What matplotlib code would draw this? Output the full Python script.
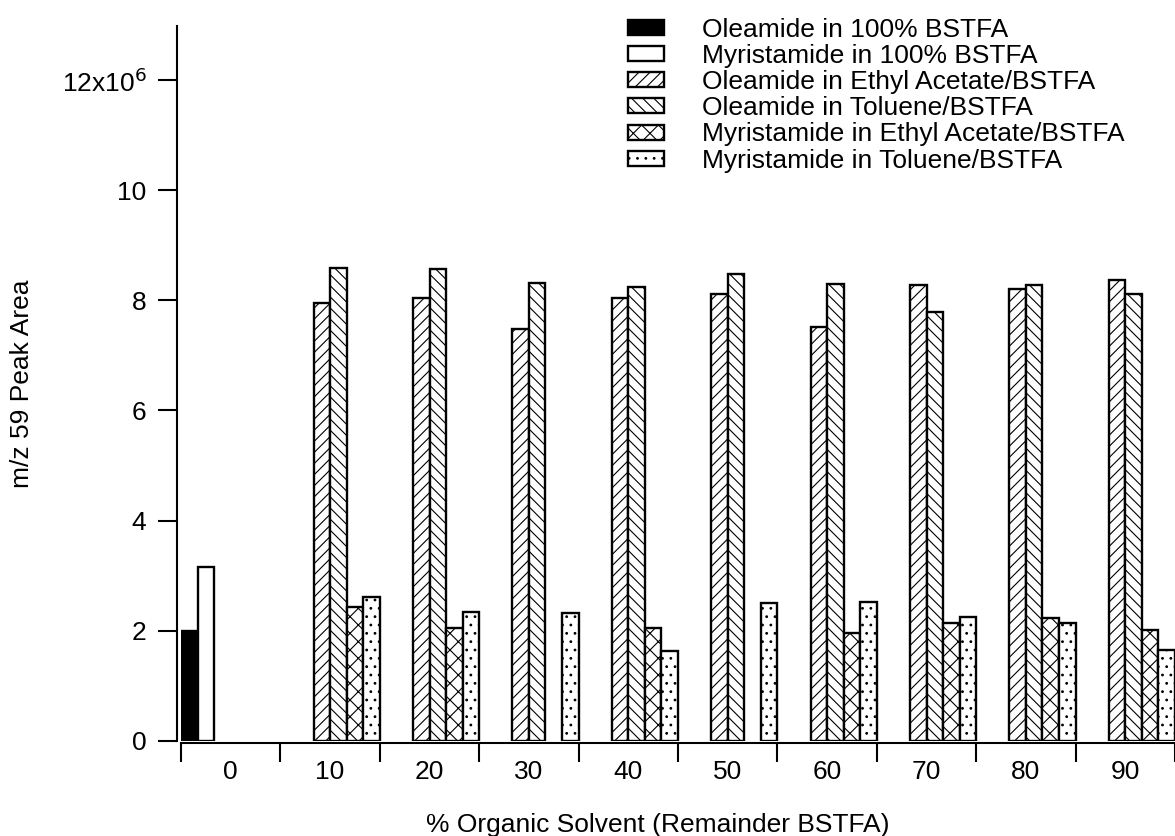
import numpy as np
import matplotlib
matplotlib.use("Agg")
import matplotlib.pyplot as plt

# peak areas in units of 1e6, nan = not measured
categories = ["0", "10", "20", "30", "40", "50", "60", "70", "80", "90"]
nan = np.nan
ole_100 = [2.00, nan, nan, nan, nan, nan, nan, nan, nan, nan]
myr_100 = [3.16, nan, nan, nan, nan, nan, nan, nan, nan, nan]
ole_ea = [nan, 7.96, 8.05, 7.48, 8.05, 8.12, 7.52, 8.28, 8.21, 8.37]
ole_tol = [nan, 8.58, 8.56, 8.32, 8.25, 8.48, 8.30, 7.78, 8.28, 8.12]
myr_ea = [nan, 2.43, 2.05, nan, 2.06, nan, 1.96, 2.14, 2.23, 2.02]
myr_tol = [nan, 2.62, 2.35, 2.32, 1.63, 2.50, 2.53, 2.26, 2.14, 1.66]

labels = ["Oleamide in 100% BSTFA", "Myristamide in 100% BSTFA",
          "Oleamide in Ethyl Acetate/BSTFA", "Oleamide in Toluene/BSTFA",
          "Myristamide in Ethyl Acetate/BSTFA", "Myristamide in Toluene/BSTFA"]
series = [ole_100, myr_100, ole_ea, ole_tol, myr_ea, myr_tol]
fills = ["black", "white", "white", "white", "white", "white"]
hatches = [None, None, "///", "\\\\\\", "xx", ".."]

plt.rcParams["font.family"] = ["Liberation Sans", "DejaVu Sans"]
plt.rcParams["hatch.linewidth"] = 0.8
fs = 19

fig = plt.figure(figsize=(11.75, 8.36), dpi=100)
ax = fig.add_axes([181 / 1175, 95 / 836, 994 / 1175, 715 / 836])

x = np.arange(len(categories))
n = len(series)
w = 1.0 / n
handles = []
for k in range(n):
    b = ax.bar(x - 0.5 + (k + 0.5) * w, series[k], width=w, color=fills[k],
               edgecolor="black", linewidth=1.7, hatch=hatches[k], label=labels[k])
    handles.append(b)

ax.set_xlim(-0.5, -0.5 + 994 / 99.7)
ax.set_ylim(0, 12.98)

for s in ["top", "right"]:
    ax.spines[s].set_visible(False)
ax.spines["left"].set_position(("outward", 3))
ax.spines["bottom"].set_position(("outward", 1.5))
ax.spines["left"].set_linewidth(1.5)
ax.spines["bottom"].set_linewidth(1.5)

yt = np.arange(0, 13, 2)
ax.set_yticks(yt)
ax.set_yticklabels([str(v) for v in yt[:-1]] + [r"12x10$^{6}$"])
ax.tick_params(axis="y", length=14, width=1.5, pad=8, labelsize=fs)

ax.set_xticks(np.arange(-0.5, 10, 1))
ax.set_xticklabels([])
ax.set_xticks(x, minor=True)
ax.set_xticklabels(categories, minor=True)
ax.tick_params(axis="x", which="major", length=14, width=1.5)
ax.tick_params(axis="x", which="minor", length=0, pad=12, labelsize=fs)

ax.set_ylabel("m/z 59 Peak Area", fontsize=fs, va="center")
ax.yaxis.set_label_coords(-0.16, 0.5)
ax.set_xlabel("% Organic Solvent (Remainder BSTFA)", fontsize=fs, va="center")
ax.xaxis.set_label_coords(0.48, -0.117)

ax.legend(handles=handles, loc="upper left", bbox_to_anchor=(628 / 1175, 1 - 18 / 836),
          bbox_transform=fig.transFigure, frameon=False, fontsize=fs,
          borderpad=0, borderaxespad=0, handlelength=1.35, handleheight=0.5,
          handletextpad=1.45, labelspacing=0.08)

fig.savefig("out.png", dpi=100)
